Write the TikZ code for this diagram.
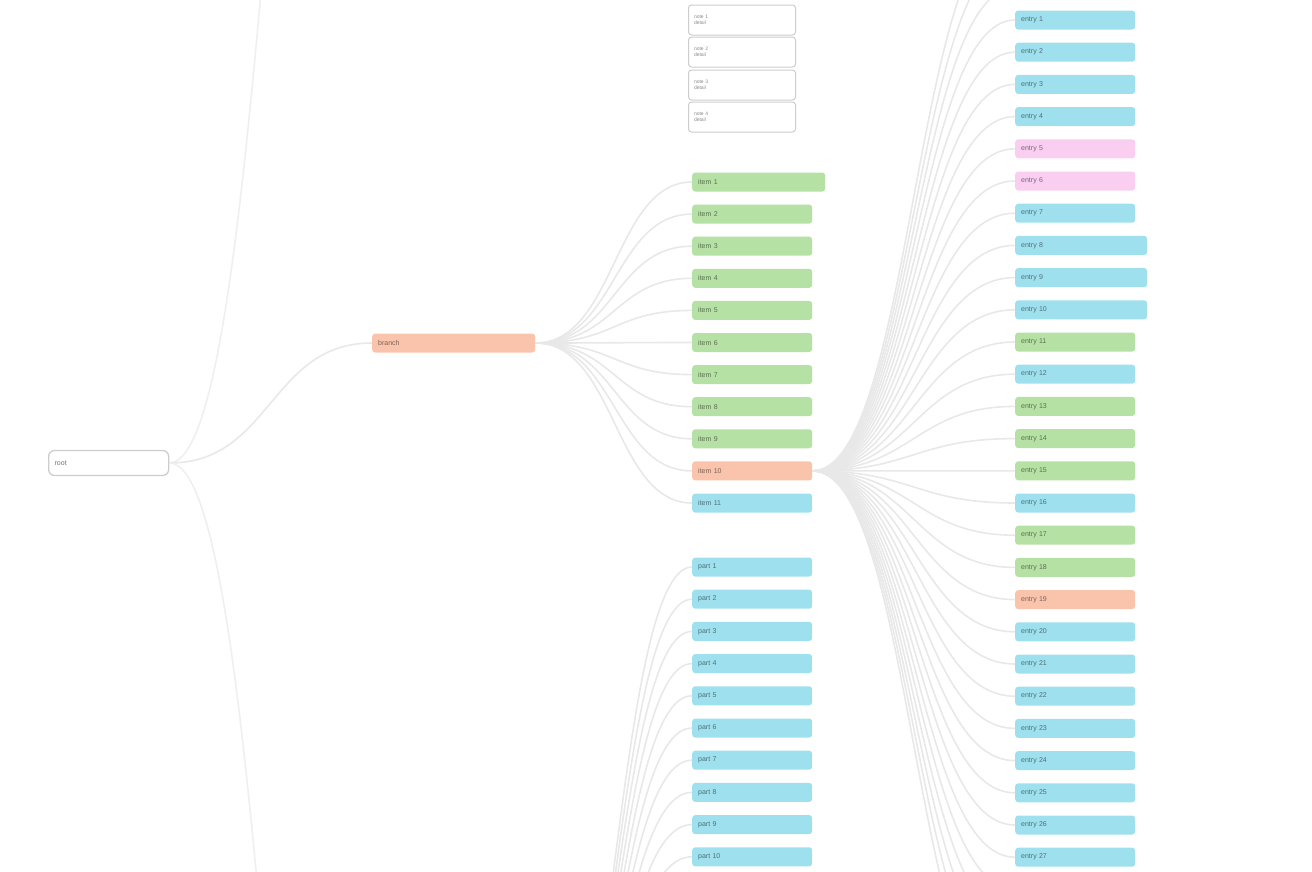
\documentclass[tikz,border=0pt]{standalone}
\usepackage{fontspec}
\setsansfont{Liberation Sans}
\usetikzlibrary{positioning}
\definecolor{leafcy}{RGB}{158,224,238}
\definecolor{leafgr}{RGB}{182,225,164}
\definecolor{leafpk}{RGB}{249,206,240}
\definecolor{leafor}{RGB}{250,196,172}
\definecolor{wire}{RGB}{232,232,232}
\definecolor{rim}{RGB}{205,205,205}
\tikzset{
  leaf/.style={fill=#1,draw=none,rounded corners=3pt,minimum height=19pt,anchor=west,
    inner xsep=6pt,inner ysep=0pt,font=\sffamily\scriptsize,text=#1!50!black,align=left},
  leaf/.default=leafcy,
  note/.style={draw=rim,fill=white,line width=1pt,rounded corners=3pt,minimum width=107pt,
    minimum height=30pt,anchor=west,inner xsep=5pt,font=\sffamily\tiny,text=black!45,
    align=left,text width=96pt},
  link/.style={draw=wire,line width=1.6pt},
}
\begin{document}
\begin{tikzpicture}[x=1pt,y=-1pt]
  \useasboundingbox (0,0) rectangle (1312,871);
  \clip (0,0) rectangle (1312,871);
  % root and first branch
  \node[draw=rim,fill=white,line width=1.3pt,rounded corners=6pt,minimum width=120pt,
    minimum height=25pt,anchor=west,font=\sffamily\scriptsize,text=black!55,
    text width=108pt,align=left] (root) at (48,463) {root};
  \node[leaf=leafor,minimum width=163pt,text width=151pt] (hub) at (372,343) {branch};
  % branches leaving the picture
  \coordinate (up) at (372,-700);
  \coordinate (down) at (372,1600);
  \coordinate (low) at (535,1175);
  \draw[link,draw=wire!70] (root.east) .. controls +(102,0) and +(-102,0) .. (up);
  \draw[link] (root.east) .. controls +(102,0) and +(-102,0) .. (hub.west);
  \draw[link,draw=wire!70] (root.east) .. controls +(102,0) and +(-102,0) .. (down);
  % notes on top
  \foreach \y [count=\i] in {20,52,85,117}
    \node[note] (u\i) at (688,\y) {note \i\\detail};
  % second column
  \foreach \c/\w [count=\i] in {leafgr/133,leafgr/120,leafgr/120,leafgr/120,leafgr/120,
      leafgr/120,leafgr/120,leafgr/120,leafgr/120,leafor/120,leafcy/120}
    \node[leaf=\c,minimum width=\w pt,text width=\w pt-12pt] (g\i) at (692,{182+32.1*(\i-1)}) {item \i};
  \foreach \i in {1,...,11}
    \draw[link] (hub.east) .. controls +(80,0) and +(-78,0) .. (g\i.west);
  \foreach \i in {1,...,10}
    \node[leaf,minimum width=120pt,text width=108pt] (b\i) at (692,{567+32.2*(\i-1)}) {part \i};
  \foreach \i in {1,...,10}
    \draw[link] (low) .. controls +(78,0) and +(-78,0) .. (b\i.west);
  % third column
  \foreach \c/\w [count=\i] in {leafcy/120,leafcy/120,leafcy/120,leafcy/120,leafpk/120,
      leafpk/120,leafcy/120,leafcy/132,leafcy/132,leafcy/132,leafgr/120,leafcy/120,
      leafgr/120,leafgr/120,leafgr/120,leafcy/120,leafgr/120,leafgr/120,leafor/120,
      leafcy/120,leafcy/120,leafcy/120,leafcy/120,leafcy/120,leafcy/120,leafcy/120,leafcy/120}
    \node[leaf=\c,minimum width=\w pt,text width=\w pt-12pt] (l\i) at (1015,{20+32.2*(\i-1)}) {entry \i};
  \foreach \i in {1,...,27}
    \draw[link] (g10.east) .. controls +(100,0) and +(-100,0) .. (l\i.west);
  \foreach \i in {1,2,3}
    \coordinate (lt\i) at (1015,{20-32.2*\i});
  \foreach \i in {1,...,5}
    \coordinate (lb\i) at (1015,{857+32.2*\i});
  \foreach \i in {1,2,3} \draw[link] (g10.east) .. controls +(100,0) and +(-100,0) .. (lt\i);
  \foreach \i in {1,...,5} \draw[link] (g10.east) .. controls +(100,0) and +(-100,0) .. (lb\i);
\end{tikzpicture}
\end{document}
